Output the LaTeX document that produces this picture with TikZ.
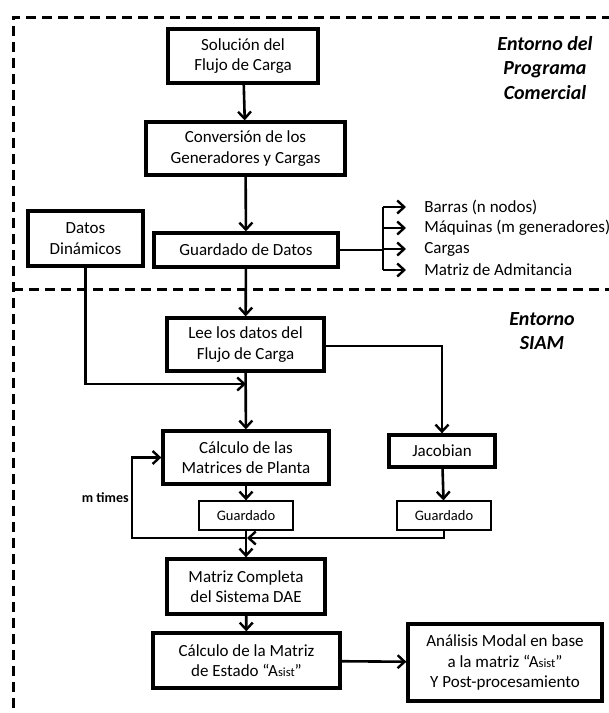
\documentclass[tikz,border=0pt]{standalone}
\usepackage{fontspec}
\setmainfont{Carlito}
\usepackage{tikz}
\usetikzlibrary{arrows,arrows.meta,positioning}

\begin{document}
\begin{tikzpicture}[
			x=1pt,y=-1pt,
			>={Straight Barb[length=7pt,width=13pt,line width=2.4pt]},
			every path/.style={line width=2.6pt},
			box/.style={draw,line width=3.3pt,inner sep=0pt,align=center,font=\fontsize{17}{20.5}\selectfont},
			savebox/.style={draw,line width=1.3pt,inner sep=0pt,minimum width=94pt,minimum height=29pt,font=\fontsize{14.5}{16}\selectfont},
			outtxt/.style={anchor=west,inner xsep=17pt,inner ysep=2pt,font=\fontsize{17}{19}\selectfont},
			envtxt/.style={align=center,font=\fontsize{20}{24.5}\selectfont\bfseries\itshape},
			frame/.style={line width=3pt,dash pattern=on 10pt off 6pt}
			]
			\useasboundingbox (0,0) rectangle (609,713);

			% entornos
			\draw[frame] (612,17) -- (13,17) -- (13,716);
			\draw[frame] (13,289) -- (612,289);
			\node[envtxt] (ecom) at (545,68) {Entorno del\\Programa\\Comercial};
			\node[envtxt] (esiam) at (542,331) {Entorno\\SIAM};

			% bloques
			\node[box,minimum width=150pt,minimum height=54pt] (sol) at (243,56) {Solución del\\Flujo de Carga};
			\node[box,minimum width=199pt,minimum height=53pt] (conv) at (245.5,148.5) {Conversión de los\\Generadores y Cargas};
			\node[box,minimum width=115pt,minimum height=55pt] (dyn) at (85.5,238.5) {Datos\\Dinámicos};
			\node[box,minimum width=184pt,minimum height=34pt] (guard) at (246,250) {Guardado de Datos};
			\node[box,minimum width=157pt,minimum height=53pt] (lee) at (245.5,344.5) {Lee los datos del\\Flujo de Carga};
			\node[box,minimum width=166pt,minimum height=53pt] (calc) at (246,457.5) {Cálculo de las\\Matrices de Planta};
			\node[box,minimum width=106pt,minimum height=32pt] (jac) at (442,451) {Jacobian};
			\node[savebox] (g1) at (246,515.5) {Guardado};
			\node[savebox] (g2) at (444,515.5) {Guardado};
			\node[box,minimum width=158pt,minimum height=55pt] (mat) at (246,586.5) {Matriz Completa\\del Sistema DAE};
			\node[box,minimum width=187pt,minimum height=55pt] (est) at (246.5,660.5) {Cálculo de la Matriz\\de Estado ``A{\fontsize{12.5}{12}\selectfont sist}''};
			\node[box,minimum width=194pt,minimum height=77pt] (anal) at (505,662.5) {Análisis Modal en base\\a la matriz ``A{\fontsize{12.5}{12}\selectfont sist}''\\Y Post-procesamiento};

			% datos guardados
			\node[outtxt] (o1) at (406,207) {Barras (n nodos)};
			\node[outtxt] (o2) at (406,228) {Máquinas (m generadores)};
			\node[outtxt] (o3) at (406,249) {Cargas};
			\node[outtxt] (o4) at (406,270) {Matriz de Admitancia};
			\coordinate (br) at (383,250);

			\node[font=\fontsize{14}{15}\selectfont\bfseries,inner sep=1pt,anchor=east] (mt) at (131,498) {m times};

			\coordinate (mrg) at (246,384);
			\coordinate (jn) at (247,538);
			\coordinate (lp) at (132,538);

			% conexiones
			\draw[->] (sol) -- (conv);
			\draw[->] (conv) -- (guard);
			\draw (guard) -- (br);
			\foreach \o in {o1,o2,o3,o4}
				\draw[->] (br |- \o.west) -- (\o.west);
			\draw (br |- o1.west) -- (br |- o4.west);
			\draw[->] (guard) -- (lee);
			\draw[->] (dyn) |- (mrg);
			\draw[->] (lee) -- (calc);
			\draw[->] (lee.east |- 0,346) -| (jac);
			\draw[->] (calc) -- (g1);
			\draw[->] (jac) -- (g2);
			\draw[->] (g2) |- (jn);
			\draw[->] (jn) -- (lp) |- (calc.west);
			\draw[->] (g1) -- (mat);
			\draw[->] (mat) -- (est);
			\draw[->] (est) -- (anal);

			\end{tikzpicture}
\end{document}
